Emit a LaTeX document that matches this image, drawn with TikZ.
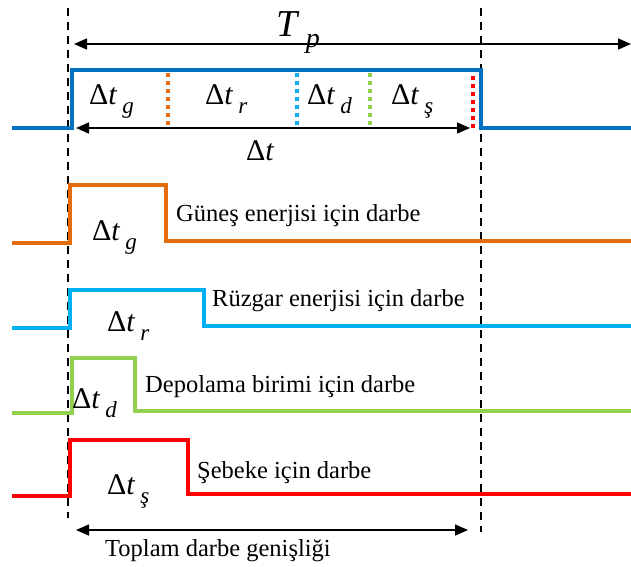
\documentclass[tikz,border=0pt]{standalone}
\usepackage{fontspec}
\setmainfont{Liberation Serif}
\usetikzlibrary{arrows.meta}
\definecolor{cblue}{HTML}{0070C0}
\definecolor{corange}{HTML}{E46C0A}
\definecolor{ccyan}{HTML}{00B0F0}
\definecolor{cgreen}{HTML}{92D050}
\definecolor{cred}{HTML}{FF0000}
\newcommand{\dtlab}[1]{Δ\textit{t}\,\raisebox{-0.3em}{\fontsize{23pt}{23pt}\selectfont\textit{#1}}}
\begin{document}
\begin{tikzpicture}[x=1pt,y=-1pt,
  wave/.style={line width=3.8pt},
  vdash/.style={line width=1.3pt,dash pattern=on 8pt off 6pt},
  sep/.style={line width=3.5pt,dash pattern=on 4pt off 4pt},
  dim/.style={line width=1.5pt,{Triangle[length=13pt,width=11pt]}-{Triangle[length=13pt,width=11pt]}},
  lbl/.style={inner sep=0pt,anchor=base west,font=\fontsize{24.5pt}{26pt}\selectfont},
  dlbl/.style={inner sep=0pt,anchor=base west,font=\fontsize{30pt}{32pt}\selectfont}]
\useasboundingbox (0,0) rectangle (631,566);
% vertical dashed guides
\coordinate (l1) at (68,8); \coordinate (l2) at (68,518);
\coordinate (r1) at (481,8); \coordinate (r2) at (481,532);
\draw[vdash] (l1) -- (l2);
\draw[vdash] (r1) -- (r2);
% Tp arrow
\coordinate (tpa) at (74,44); \coordinate (tpb) at (631,44);
\draw[dim] (tpa) -- (tpb);
\node[inner sep=0pt,anchor=base west,font=\fontsize{38pt}{40pt}\selectfont] (tp) at (276,36) {\textit{T}\,\raisebox{-0.3em}{\fontsize{28pt}{28pt}\selectfont\textit{p}}};
% blue pulse
\coordinate (b0) at (12,128); \coordinate (b1) at (72,128); \coordinate (b2) at (72,70);
\coordinate (b3) at (481,70); \coordinate (b4) at (481,128); \coordinate (b5) at (631,128);
\draw[wave,cblue] (b0) -- (b1) -- (b2) -- (b3) -- (b4) -- (b5);
% separators
\coordinate (s1a) at (168,73); \coordinate (s1b) at (168,128);
\coordinate (s2a) at (297,73); \coordinate (s2b) at (297,128);
\coordinate (s3a) at (370,73); \coordinate (s3b) at (370,128);
\coordinate (s4a) at (473,76); \coordinate (s4b) at (473,128);
\draw[sep,corange] (s1a) -- (s1b);
\draw[sep,ccyan] (s2a) -- (s2b);
\draw[sep,cgreen] (s3a) -- (s3b);
\draw[sep,cred] (s4a) -- (s4b);
\node[dlbl] (tg) at (89,104) {\dtlab{g}};
\node[dlbl] (tr) at (205,104) {\dtlab{r}};
\node[dlbl] (td) at (307,104) {\dtlab{d}};
\node[dlbl] (ts) at (391,104) {\dtlab{ş}};
% delta t arrow
\coordinate (da) at (76,128); \coordinate (db) at (470,128);
\draw[dim] (da) -- (db);
\node[dlbl] (dt) at (246,160) {Δ\textit{t}};
% orange pulse
\coordinate (o0) at (12,243); \coordinate (o1) at (70,243); \coordinate (o2) at (70,185);
\coordinate (o3) at (166,185); \coordinate (o4) at (166,241); \coordinate (o5) at (631,241);
\draw[wave,corange] (o0) -- (o1) -- (o2) -- (o3) -- (o4) -- (o5);
\node[dlbl] (og) at (92,240) {\dtlab{g}};
\node[lbl] (ot) at (176,221) {Güneş enerjisi için darbe};
% cyan pulse
\coordinate (c0) at (12,328); \coordinate (c1) at (70,328); \coordinate (c2) at (70,290);
\coordinate (c3) at (204,290); \coordinate (c4) at (204,326); \coordinate (c5) at (631,326);
\draw[wave,ccyan] (c0) -- (c1) -- (c2) -- (c3) -- (c4) -- (c5);
\node[dlbl] (cr) at (107,331) {\dtlab{r}};
\node[lbl] (ct) at (212,306) {Rüzgar enerjisi için darbe};
% green pulse
\coordinate (g0) at (12,413); \coordinate (g1) at (72,413); \coordinate (g2) at (72,358);
\coordinate (g3) at (135,358); \coordinate (g4) at (135,411); \coordinate (g5) at (631,411);
\draw[wave,cgreen] (g0) -- (g1) -- (g2) -- (g3) -- (g4) -- (g5);
\node[dlbl] (gd) at (72,408) {\dtlab{d}};
\node[lbl] (gt) at (145,392) {Depolama birimi için darbe};
% red pulse
\coordinate (p0) at (12,496); \coordinate (p1) at (70,496); \coordinate (p2) at (70,440);
\coordinate (p3) at (188,440); \coordinate (p4) at (188,494); \coordinate (p5) at (631,494);
\draw[wave,cred] (p0) -- (p1) -- (p2) -- (p3) -- (p4) -- (p5);
\node[dlbl] (ps) at (107,494) {\dtlab{ş}};
\node[lbl] (pt) at (197,478) {Şebeke için darbe};
% total width arrow
\coordinate (ta) at (76,530); \coordinate (tb) at (468,530);
\draw[dim] (ta) -- (tb);
\node[lbl] (tt) at (105,556) {Toplam darbe genişliği};
\end{tikzpicture}
\end{document}
